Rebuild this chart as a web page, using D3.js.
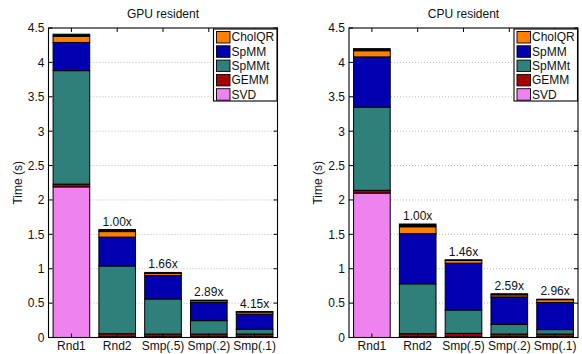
<!DOCTYPE html>
<html>
<head>
<meta charset="utf-8">
<script src="https://cdn.jsdelivr.net/npm/d3@7"></script>
<style>
  html, body { margin: 0; padding: 0; background: #fff; }
  svg { display: block; font-family: "Liberation Sans", Arial, Helvetica, sans-serif; }
</style>
</head>
<body>
<svg id="chart" width="582" height="354"></svg>
<script>
// Runs and kernels
const categories = ["Rnd1", "Rnd2", "Smp(.5)", "Smp(.2)", "Smp(.1)"];
const kernels = ["SVD", "GEMM", "SpMMt", "SpMM", "CholQR", "Other"];
const legendKernels = ["CholQR", "SpMM", "SpMMt", "GEMM", "SVD"];
const yTicks = [0, 0.5, 1, 1.5, 2, 2.5, 3, 3.5, 4, 4.5];

// GPU-resident timings (s)
const svdGPU    = [2.19, 0.01, 0.01, 0.01, 0.01];
const gemmGPU   = [0.04, 0.045, 0.04, 0.04, 0.04];
const spmmtGPU  = [1.65, 0.985, 0.51, 0.195, 0.07];
const spmmGPU   = [0.41, 0.42, 0.34, 0.265, 0.22];
const cholqrGPU = [0.09, 0.08, 0.03, 0.025, 0.03];
const otherGPU  = [0.03, 0.03, 0.016, 0.008, 0.008];

// CPU-resident timings (s)
const svdCPU    = [2.10, 0.01, 0.01, 0.01, 0.01];
const gemmCPU   = [0.04, 0.045, 0.05, 0.04, 0.04];
const spmmtCPU  = [1.21, 0.725, 0.34, 0.14, 0.065];
const spmmCPU   = [0.73, 0.73, 0.68, 0.40, 0.395];
const cholqrCPU = [0.09, 0.10, 0.04, 0.03, 0.04];
const otherCPU  = [0.03, 0.04, 0.01, 0.016, 0.007];

const colors = {
  SVD: "#ee82ee", GEMM: "#aa0000", SpMMt: "#2f7f7b",
  SpMM: "#0000b0", CholQR: "#ff8000", Other: "#000000"
};

function buildRows(svd, gemm, spmmt, spmm, cholqr, other) {
  return categories.map((c, i) => ({
    cat: c, SVD: svd[i], GEMM: gemm[i], SpMMt: spmmt[i],
    SpMM: spmm[i], CholQR: cholqr[i], Other: other[i]
  }));
}

const panels = [
  { title: "GPU resident", x0: 48.5, x1: 277.5,
    rows: buildRows(svdGPU, gemmGPU, spmmtGPU, spmmGPU, cholqrGPU, otherGPU) },
  { title: "CPU resident", x0: 349, x1: 578,
    rows: buildRows(svdCPU, gemmCPU, spmmtCPU, spmmCPU, cholqrCPU, otherCPU) }
];

const svg = d3.select("#chart");
const yTop = 28, yBot = 337.5;

panels.forEach(p => {
  const g = svg.append("g");
  const x = d3.scaleBand().domain(categories).range([p.x0, p.x1])
    .paddingInner(0.2).paddingOuter(0.1);
  const y = d3.scaleLinear().domain([0, 4.5]).range([yBot, yTop]);

  // dotted grid
  g.selectAll("line.grid").data(yTicks.filter(t => t > 0 && t < 4.5)).enter()
    .append("line")
    .attr("x1", p.x0).attr("x2", p.x1)
    .attr("y1", d => y(d)).attr("y2", d => y(d))
    .attr("stroke", "#b8b8b8").attr("stroke-width", 1)
    .attr("stroke-dasharray", "1,2");

  // stacked bars
  const series = d3.stack().keys(kernels)(p.rows);
  series.forEach(s => {
    g.selectAll(null).data(s).enter().append("rect")
      .attr("x", d => x(d.data.cat))
      .attr("width", x.bandwidth())
      .attr("y", d => y(d[1]))
      .attr("height", d => Math.max(0, y(d[0]) - y(d[1])))
      .attr("fill", colors[s.key])
      .attr("stroke", "#000").attr("stroke-width", 1);
  });

  // speedup labels relative to Rnd2
  const totals = p.rows.map(r => d3.sum(kernels, k => r[k]));
  const base = totals[1];
  g.selectAll("text.speed").data(p.rows.slice(1)).enter().append("text")
    .attr("x", d => x(d.cat) + x.bandwidth() / 2)
    .attr("y", (d, i) => y(totals[i + 1]) - 4)
    .attr("text-anchor", "middle")
    .attr("font-size", 12).attr("fill", "#111")
    .text((d, i) => (base / totals[i + 1]).toFixed(2) + "x");

  // axes box
  g.append("rect")
    .attr("x", p.x0).attr("y", yTop)
    .attr("width", p.x1 - p.x0).attr("height", yBot - yTop)
    .attr("fill", "none").attr("stroke", "#000").attr("stroke-width", 1.1);

  // inward tick marks on all four sides
  const tl = 4;
  yTicks.forEach(t => {
    g.append("line").attr("x1", p.x0).attr("x2", p.x0 + tl)
      .attr("y1", y(t)).attr("y2", y(t)).attr("stroke", "#000");
    g.append("line").attr("x1", p.x1).attr("x2", p.x1 - tl)
      .attr("y1", y(t)).attr("y2", y(t)).attr("stroke", "#000");
  });
  categories.forEach(c => {
    const cx = x(c) + x.bandwidth() / 2;
    g.append("line").attr("x1", cx).attr("x2", cx)
      .attr("y1", yBot).attr("y2", yBot - tl).attr("stroke", "#000");
    g.append("line").attr("x1", cx).attr("x2", cx)
      .attr("y1", yTop).attr("y2", yTop + tl).attr("stroke", "#000");
  });

  // tick labels via d3 axes (lines hidden, labels only)
  const yAxis = g.append("g").attr("transform", `translate(${p.x0},0)`)
    .call(d3.axisLeft(y).tickValues(yTicks).tickSize(0).tickPadding(4)
      .tickFormat(d3.format("~g")));
  yAxis.select(".domain").remove();
  yAxis.selectAll("text").attr("font-size", 12).attr("fill", "#111")
    .attr("font-family", "Liberation Sans, Arial, sans-serif");

  const xAxis = g.append("g").attr("transform", `translate(0,${yBot})`)
    .call(d3.axisBottom(x).tickSize(0).tickPadding(4));
  xAxis.select(".domain").remove();
  xAxis.selectAll("text").attr("font-size", 12).attr("fill", "#111")
    .attr("font-family", "Liberation Sans, Arial, sans-serif");

  // title and y-axis label
  g.append("text").attr("x", (p.x0 + p.x1) / 2).attr("y", 18)
    .attr("text-anchor", "middle").attr("font-size", 12).attr("fill", "#111")
    .text(p.title);
  g.append("text")
    .attr("transform", `translate(${p.x0 - 27},${(yTop + yBot) / 2}) rotate(-90)`)
    .attr("text-anchor", "middle").attr("font-size", 12).attr("fill", "#111")
    .text("Time (s)");

  // legend
  const lx = p.x1 - 64, ly = yTop + 1, rowH = 14.3;
  const lg = g.append("g");
  lg.append("rect").attr("x", lx).attr("y", ly).attr("width", 63.5)
    .attr("height", 72).attr("fill", "#fff").attr("stroke", "#000").attr("stroke-width", 1.1);
  legendKernels.forEach((k, i) => {
    const cy = ly + 8 + i * rowH;
    lg.append("rect").attr("x", lx + 3).attr("y", cy - 5.5)
      .attr("width", 13.5).attr("height", 11.5)
      .attr("fill", colors[k]).attr("stroke", "#000").attr("stroke-width", 0.9);
    lg.append("text").attr("x", lx + 18).attr("y", cy + 4.4)
      .attr("font-size", 12).attr("fill", "#111").text(k);
  });
});
</script>
</body>
</html>
